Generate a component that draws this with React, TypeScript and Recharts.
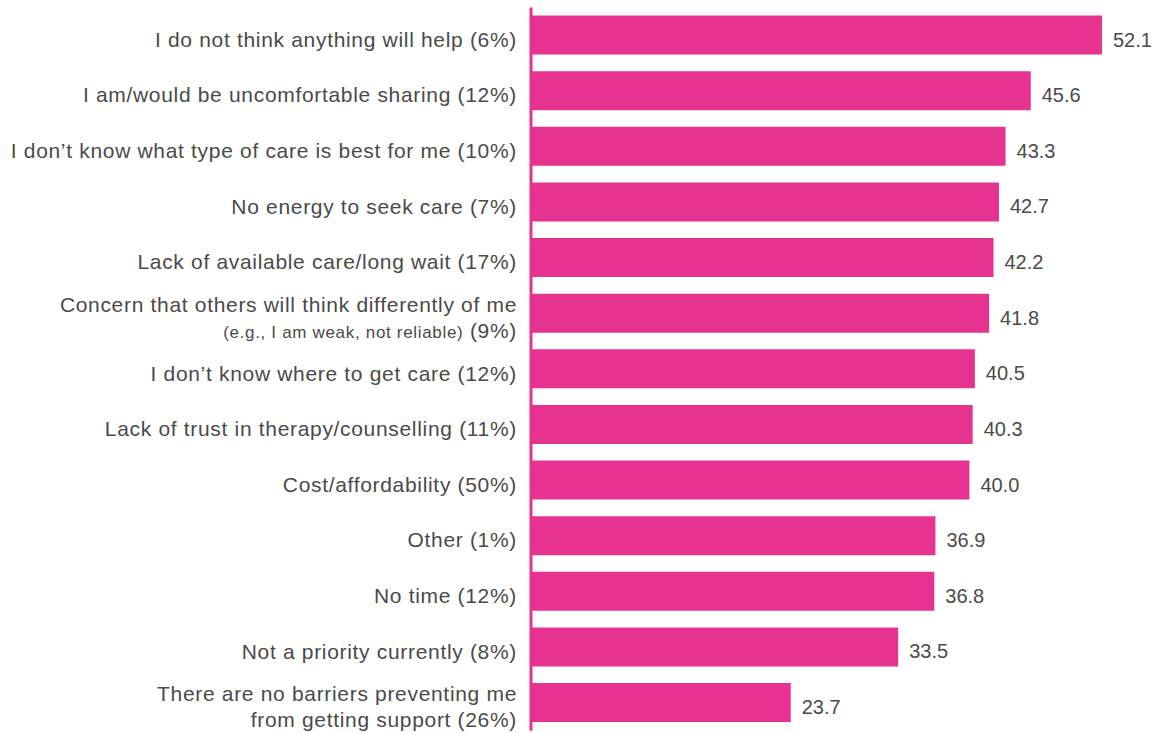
import { Bar, BarChart, LabelList, XAxis, YAxis } from 'recharts'

const categories = [
  'I do not think anything will help (6%)',
  'I am/would be uncomfortable sharing (12%)',
  'I don\u2019t know what type of care is best for me (10%)',
  'No energy to seek care (7%)',
  'Lack of available care/long wait (17%)',
  'Concern that others will think differently of me\n(e.g., I am weak, not reliable) (9%)',
  'I don\u2019t know where to get care (12%)',
  'Lack of trust in therapy/counselling (11%)',
  'Cost/affordability (50%)',
  'Other (1%)',
  'No time (12%)',
  'Not a priority currently (8%)',
  'There are no barriers preventing me\nfrom getting support (26%)',
]

const scores = [52.1, 45.6, 43.3, 42.7, 42.2, 41.8, 40.5, 40.3, 40.0, 36.9, 36.8, 33.5, 23.7]

const data = categories.map((name, i) => ({ name, score: scores[i] }))

const PINK = '#E6338F'
const TEXT = '#4a4a4a'
const FONT = '"Liberation Sans", Arial, Helvetica, sans-serif'

function CategoryTick({ x, y, payload }: any) {
  const lines: string[] = String(payload.value).split('\n')
  const lineH = 26
  const start = y + 11.5 - ((lines.length - 1) * lineH) / 2
  return (
    <text
      x={x}
      y={start}
      textAnchor="end"
      fill={TEXT}
      fontSize={21}
      letterSpacing={0.68}
      fontFamily={FONT}
    >
      {lines.map((line, i) => {
        // the "(e.g., ...)" note is set in a smaller size
        const m = line.match(/^(\(e\.g\..*?\))(.*)$/)
        if (m) {
          return (
            <tspan key={i} x={x} y={start + i * lineH}>
              <tspan fontSize={17}>{m[1]}</tspan>
              <tspan>{m[2]}</tspan>
            </tspan>
          )
        }
        return (
          <tspan key={i} x={x} y={start + i * lineH}>
            {line}
          </tspan>
        )
      })}
    </text>
  )
}

function ValueLabel({ x, y, width, height, value }: any) {
  return (
    <text
      x={x + width + 11}
      y={y + height / 2 + 11.5}
      fill={TEXT}
      fontSize={20}
      fontFamily={FONT}
      textAnchor="start"
    >
      {Number(value).toFixed(1)}
    </text>
  )
}

export default function App() {
  return (
    <div style={{ position: 'absolute', left: 0, top: 0, width: 1170, height: 733, background: '#fff' }}>
      <BarChart
        width={1170}
        height={733}
        data={data}
        layout="vertical"
        margin={{ top: 7.5, right: 68, left: 0, bottom: 2.3 }}
        barSize={39}
      >
        <XAxis type="number" domain={[0, 52.1]} hide />
        <YAxis
          type="category"
          dataKey="name"
          width={531}
          interval={0}
          tickLine={false}
          tickMargin={8}
          axisLine={{ stroke: PINK, strokeWidth: 3 }}
          tick={<CategoryTick />}
        />
        <Bar dataKey="score" fill={PINK} isAnimationActive={false}>
          <LabelList dataKey="score" content={<ValueLabel />} />
        </Bar>
      </BarChart>
    </div>
  )
}
